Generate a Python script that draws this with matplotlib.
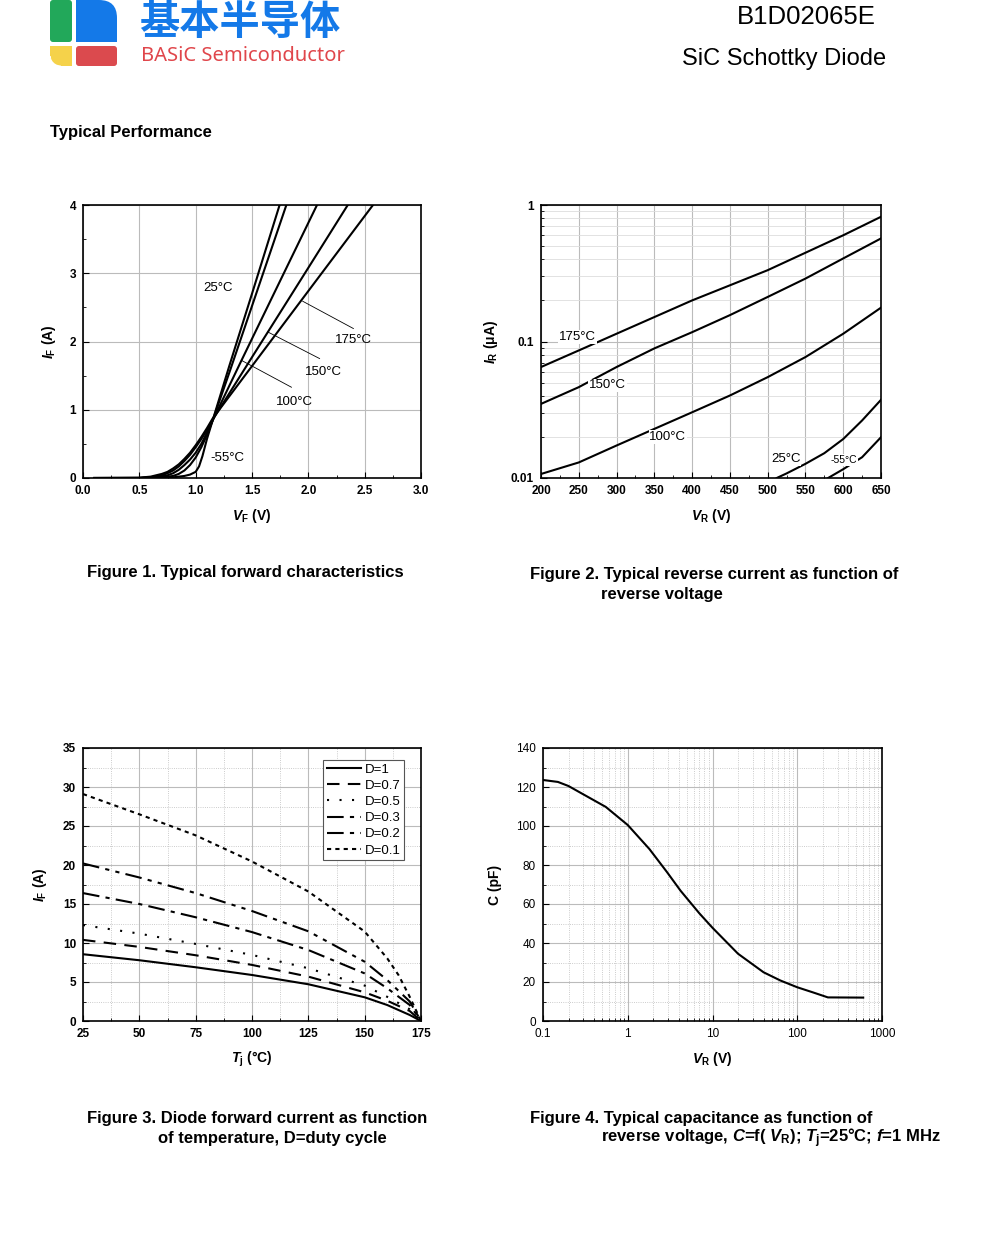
import matplotlib
matplotlib.use('Agg')
import matplotlib.pyplot as plt
from matplotlib.patches import FancyBboxPatch, Rectangle
from matplotlib.ticker import MultipleLocator, LogLocator, NullFormatter, FixedLocator, FixedFormatter

plt.rcParams['font.family'] = ['Liberation Sans', 'DejaVu Sans']
plt.rcParams['mathtext.fontset'] = 'custom'
plt.rcParams['mathtext.rm'] = 'Liberation Sans:bold'
plt.rcParams['mathtext.it'] = 'Liberation Sans:italic:bold'
plt.rcParams['mathtext.bf'] = 'Liberation Sans:bold'

# ---- Figure 1 : forward characteristics
vf_m55 = [0.1, 0.5, 0.7, 0.8, 0.9, 0.95, 1.0, 1.03, 1.06, 1.1, 1.15, 1.3, 1.5, 1.745]
if_m55 = [0, 0, 0.005, 0.01, 0.03, 0.05, 0.09, 0.17, 0.32, 0.57, 0.84, 1.65, 2.7, 4.0]
vf_25 = [0.1, 0.5, 0.7, 0.8, 0.85, 0.9, 0.95, 1.0, 1.05, 1.1, 1.15, 1.3, 1.5, 1.805]
if_25 = [0, 0, 0.01, 0.03, 0.06, 0.11, 0.19, 0.3, 0.45, 0.63, 0.84, 1.55, 2.52, 4.0]
vf_100 = [0.1, 0.5, 0.65, 0.75, 0.8, 0.85, 0.9, 0.95, 1.0, 1.05, 1.1, 1.15, 1.4, 1.7, 2.077]
if_100 = [0, 0, 0.01, 0.04, 0.07, 0.12, 0.19, 0.27, 0.37, 0.5, 0.66, 0.84, 1.7, 2.72, 4.0]
vf_150 = [0.1, 0.5, 0.6, 0.7, 0.75, 0.8, 0.85, 0.9, 0.95, 1.0, 1.05, 1.1, 1.15, 1.5, 2.0, 2.35]
if_150 = [0, 0, 0.01, 0.04, 0.07, 0.11, 0.17, 0.25, 0.34, 0.45, 0.57, 0.7, 0.85, 1.77, 3.08, 4.0]
vf_175 = [0.1, 0.5, 0.6, 0.7, 0.75, 0.8, 0.85, 0.9, 0.95, 1.0, 1.05, 1.1, 1.15, 1.5, 2.0, 2.574]
if_175 = [0, 0.005, 0.02, 0.06, 0.09, 0.14, 0.2, 0.28, 0.37, 0.48, 0.6, 0.73, 0.87, 1.64, 2.74, 4.0]

# ---- Figure 2 : reverse current
vr_175 = [200, 250, 300, 350, 400, 450, 500, 550, 600, 650]
ir_175 = [0.065, 0.086, 0.114, 0.151, 0.200, 0.258, 0.333, 0.447, 0.60, 0.82]
vr_150 = [200, 250, 300, 350, 400, 450, 500, 550, 600, 650]
ir_150 = [0.0349, 0.0463, 0.065, 0.089, 0.117, 0.156, 0.212, 0.289, 0.406, 0.569]
vr_100 = [200, 250, 300, 350, 400, 450, 500, 550, 600, 650]
ir_100 = [0.0107, 0.013, 0.0173, 0.0229, 0.0303, 0.0402, 0.0548, 0.0769, 0.114, 0.177]
vr_25 = [512, 525, 550, 575, 600, 625, 650]
ir_25 = [0.01, 0.0108, 0.0127, 0.0152, 0.0193, 0.0264, 0.0374]
vr_m55 = [580, 600, 625, 650]
ir_m55 = [0.01, 0.0116, 0.0142, 0.0199]

# ---- Figure 3 : forward current vs temperature
tj = [25, 50, 75, 100, 125, 150, 160, 170, 175]
if_d1 = [8.56, 7.79, 6.89, 5.9, 4.71, 3.04, 2.05, 0.77, 0]
if_d07 = [10.4, 9.5, 8.43, 7.19, 5.69, 3.68, 2.6, 1.28, 0]
if_d05 = [12.3, 11.2, 9.88, 8.47, 6.76, 4.54, 3.1, 1.5, 0]
if_d03 = [16.4, 15.0, 13.3, 11.4, 9.1, 6.1, 4.2, 2.05, 0]
if_d02 = [20.2, 18.4, 16.4, 14.1, 11.5, 7.6, 5.26, 2.5, 0]
tj_d01 = [25, 50, 75, 100, 125, 150, 160, 165, 170, 175]
if_d01 = [29.1, 26.5, 23.8, 20.45, 16.6, 11.47, 8.04, 5.9, 3.1, 0]
duty_labels = ['D=1', 'D=0.7', 'D=0.5', 'D=0.3', 'D=0.2', 'D=0.1']

# ---- Figure 4 : capacitance
vr_c = [0.1, 0.15, 0.2, 0.3, 0.55, 1, 1.8, 2.9, 4.2, 7, 10, 20, 40, 63, 100, 155, 230, 600]
cap = [123.6, 122.6, 120.5, 116.2, 109.8, 100.5, 88.2, 76.4, 66.8, 55.2, 47.8, 34.5, 25.0,
       20.8, 17.3, 14.6, 12.1, 12.0]

fig = plt.figure(figsize=(10, 12.5), dpi=100)

# page overlay in pixel coordinates
pg = fig.add_axes([0, 0, 1, 1])
pg.set_xlim(0, 1000)
pg.set_ylim(1250, 0)
pg.axis('off')

blue = '#1479E8'
pg.add_patch(FancyBboxPatch((50, 0), 22, 42, boxstyle='round,pad=0,rounding_size=3', fc='#22A85A', ec='none'))
pg.add_patch(FancyBboxPatch((76, 0), 41, 42, boxstyle='round,pad=0,rounding_size=18', fc=blue, ec='none'))
pg.add_patch(Rectangle((76, 0), 20, 42, fc=blue, ec='none'))
pg.add_patch(Rectangle((76, 21), 41, 21, fc=blue, ec='none'))
pg.add_patch(FancyBboxPatch((50, 46), 22, 20, boxstyle='round,pad=0,rounding_size=14', fc='#F5D24A', ec='none'))
pg.add_patch(Rectangle((61, 46), 11, 20, fc='#F5D24A', ec='none'))
pg.add_patch(Rectangle((50, 46), 22, 10, fc='#F5D24A', ec='none'))
pg.add_patch(FancyBboxPatch((76, 46), 41, 20, boxstyle='round,pad=0,rounding_size=3', fc='#DB4A4E', ec='none'))
pg.text(139, 23, '基本半导体', family=['Noto Sans CJK SC'], fontweight='bold', fontsize=29,
        color=blue, ha='left', va='center')
pg.text(141, 56, 'BASiC Semiconductor', family=['Noto Sans'], fontsize=14.5,
        color='#E0464B', ha='left', va='center')

pg.text(876, 17, 'B1D02065E', fontsize=18.5, ha='right', va='center')
pg.text(886, 59, 'SiC Schottky Diode', fontsize=17, ha='right', va='center')
pg.text(50, 132, 'Typical Performance', fontsize=12, fontweight='bold', va='center')

cap_kw = dict(fontsize=12, fontweight='bold', va='center', ha='left')
pg.text(87, 573, 'Figure 1. Typical forward characteristics', **cap_kw)
pg.text(530, 574, 'Figure 2. Typical reverse current as function of', **cap_kw)
pg.text(601, 594, 'reverse voltage', **cap_kw)
pg.text(87, 1118, 'Figure 3. Diode forward current as function', **cap_kw)
pg.text(158, 1138, 'of temperature, D=duty cycle', **cap_kw)
pg.text(530, 1118, 'Figure 4. Typical capacitance as function of', **cap_kw)
pg.text(601, 1138, r'reverse voltage, $C$=f( $V_\mathrm{R}$); $T_\mathrm{j}$=25°C; $f$=1 MHz', **cap_kw)


def style(ax, bold=True):
    for s in ax.spines.values():
        s.set_linewidth(1.2)
    ax.tick_params(which='both', direction='in', labelsize=8.5, pad=5)
    ax.tick_params(which='major', length=4)
    ax.tick_params(which='minor', length=2)
    for lab in ax.get_xticklabels() + ax.get_yticklabels():
        lab.set_fontweight('bold' if bold else 'normal')


W, H = 0.338, 0.2184
lbl = dict(fontsize=10, fontweight='bold')

# Figure 1
ax1 = fig.add_axes([0.083, 0.6176, W, H])
for x, y in [(vf_m55, if_m55), (vf_25, if_25), (vf_100, if_100), (vf_150, if_150), (vf_175, if_175)]:
    ax1.plot(x, y, color='black', lw=1.5)
ax1.set_xlim(0, 3)
ax1.set_ylim(0, 4)
ax1.xaxis.set_major_locator(MultipleLocator(0.5))
ax1.xaxis.set_minor_locator(MultipleLocator(0.25))
ax1.yaxis.set_major_locator(MultipleLocator(1))
ax1.yaxis.set_minor_locator(MultipleLocator(0.5))
ax1.xaxis.set_major_formatter(plt.FormatStrFormatter('%.1f'))
ax1.grid(which='major', color='#BBBBBB', lw=0.8)
ax1.set_axisbelow(True)
ax1.set_xlabel(r'$V_\mathrm{F}$ (V)', labelpad=7, **lbl)
ax1.set_ylabel(r'$I_\mathrm{F}$ (A)', labelpad=8, **lbl)
style(ax1)
ax1.text(1.2, 2.78, '25°C', fontsize=9.5, ha='center', va='center')
ax1.text(2.4, 2.02, '175°C', fontsize=9.5, ha='center', va='center')
ax1.text(2.13, 1.55, '150°C', fontsize=9.5, ha='center', va='center')
ax1.text(1.88, 1.11, '100°C', fontsize=9.5, ha='center', va='center')
ax1.text(1.285, 0.30, '-55°C', fontsize=9.5, ha='center', va='center')
ax1.plot([1.95, 2.40], [2.59, 2.19], color='black', lw=0.6)
ax1.plot([1.64, 2.10], [2.14, 1.75], color='black', lw=0.6)
ax1.plot([1.405, 1.85], [1.725, 1.33], color='black', lw=0.6)

# Figure 2
ax2 = fig.add_axes([0.541, 0.6176, 0.340, H])
for x, y in [(vr_175, ir_175), (vr_150, ir_150), (vr_100, ir_100), (vr_25, ir_25), (vr_m55, ir_m55)]:
    ax2.plot(x, y, color='black', lw=1.5)
ax2.set_yscale('log')
ax2.set_xlim(200, 650)
ax2.set_ylim(0.01, 1)
ax2.xaxis.set_major_locator(MultipleLocator(50))
ax2.xaxis.set_minor_locator(MultipleLocator(25))
ax2.yaxis.set_major_locator(FixedLocator([0.01, 0.1, 1]))
ax2.yaxis.set_major_formatter(FixedFormatter(['0.01', '0.1', '1']))
ax2.yaxis.set_minor_locator(LogLocator(base=10, subs=range(2, 10)))
ax2.yaxis.set_minor_formatter(NullFormatter())
ax2.grid(which='major', color='#BBBBBB', lw=0.8)
ax2.grid(which='minor', axis='y', color='#DDDDDD', lw=0.6)
ax2.set_axisbelow(True)
ax2.set_xlabel(r'$V_\mathrm{R}$ (V)', labelpad=7, **lbl)
ax2.set_ylabel(r'$I_\mathrm{R}$ (μA)', labelpad=8, **lbl)
style(ax2)
bb = dict(fc='white', ec='none', pad=0.6)
ax2.text(248, 0.108, '175°C', fontsize=9.5, ha='center', va='center', bbox=bb)
ax2.text(288, 0.0477, '150°C', fontsize=9.5, ha='center', va='center', bbox=bb)
ax2.text(368, 0.0199, '100°C', fontsize=9.5, ha='center', va='center', bbox=bb)
ax2.text(524, 0.0138, '25°C', fontsize=9.5, ha='center', va='center', bbox=bb)
ax2.text(601, 0.0136, '-55°C', fontsize=7.5, ha='center', va='center', bbox=bb)

# Figure 3
ax3 = fig.add_axes([0.083, 0.1832, W, H])
styles = ['-', (0, (6, 4)), (0, (1, 5)), (0, (8, 3, 2, 3)), (0, (8, 3, 2, 3, 2, 3)), (0, (2, 2))]
series = [(tj, if_d1), (tj, if_d07), (tj, if_d05), (tj, if_d03), (tj, if_d02), (tj_d01, if_d01)]
for (x, y), ls, lab in zip(series, styles, duty_labels):
    ax3.plot(x, y, color='black', lw=1.5, ls=ls, label=lab)
ax3.set_xlim(25, 175)
ax3.set_ylim(0, 35)
ax3.xaxis.set_major_locator(MultipleLocator(25))
ax3.xaxis.set_minor_locator(MultipleLocator(12.5))
ax3.yaxis.set_major_locator(MultipleLocator(5))
ax3.yaxis.set_minor_locator(MultipleLocator(2.5))
ax3.grid(which='major', color='#BBBBBB', lw=0.8)
ax3.grid(which='minor', color='#BBBBBB', lw=0.6, ls=':')
ax3.set_axisbelow(True)
ax3.set_xlabel(r'$T_\mathrm{j}$ (°C)', labelpad=7, **lbl)
ax3.set_ylabel(r'$I_\mathrm{F}$ (A)', labelpad=10, **lbl)
style(ax3)
leg = ax3.legend(loc='upper right', bbox_to_anchor=(0.95, 0.956), borderaxespad=0, fancybox=False,
                 edgecolor='#555555', framealpha=1, fontsize=9.5, handlelength=2.6,
                 labelspacing=0.3, borderpad=0.25, handletextpad=0.3)
leg.get_frame().set_linewidth(0.8)

# Figure 4
ax4 = fig.add_axes([0.543, 0.1832, 0.339, H])
ax4.plot(vr_c, cap, color='black', lw=1.5)
ax4.set_xscale('log')
ax4.set_xlim(0.1, 1000)
ax4.set_ylim(0, 140)
ax4.xaxis.set_major_locator(FixedLocator([0.1, 1, 10, 100, 1000]))
ax4.xaxis.set_major_formatter(FixedFormatter(['0.1', '1', '10', '100', '1000']))
ax4.xaxis.set_minor_locator(LogLocator(base=10, subs=range(2, 10)))
ax4.xaxis.set_minor_formatter(NullFormatter())
ax4.yaxis.set_major_locator(MultipleLocator(20))
ax4.yaxis.set_minor_locator(MultipleLocator(10))
ax4.grid(which='major', color='#BBBBBB', lw=0.8)
ax4.grid(which='minor', color='#BBBBBB', lw=0.6, ls=':')
ax4.set_axisbelow(True)
ax4.set_xlabel(r'$V_\mathrm{R}$ (V)', labelpad=7, **lbl)
ax4.set_ylabel('C (pF)', labelpad=10, **lbl)
style(ax4, bold=False)

fig.savefig('out.png', dpi=100)
